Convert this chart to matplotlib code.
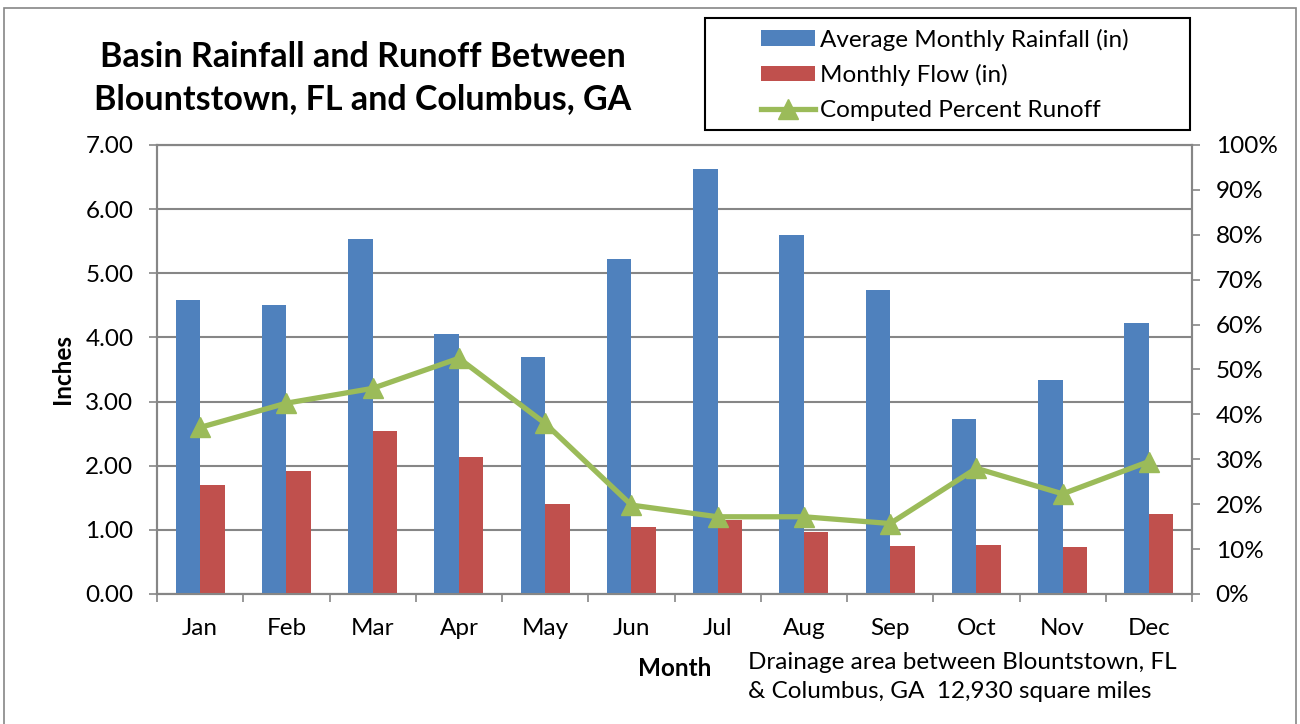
import matplotlib
matplotlib.use("Agg")
import matplotlib.pyplot as plt
from matplotlib.patches import Rectangle
import matplotlib.ticker as mt
import numpy as np

months = ["Jan", "Feb", "Mar", "Apr", "May", "Jun", "Jul", "Aug", "Sep", "Oct", "Nov", "Dec"]
rainfall = [4.58, 4.50, 5.53, 4.05, 3.69, 5.23, 6.63, 5.60, 4.74, 2.73, 3.33, 4.22]
flow = [1.70, 1.91, 2.54, 2.13, 1.41, 1.05, 1.15, 0.97, 0.75, 0.77, 0.74, 1.25]
runoff_pct = [37.1, 42.5, 45.8, 52.5, 38.0, 19.8, 17.2, 17.2, 15.7, 28.0, 22.3, 29.5]
left_ticks = [0, 1, 2, 3, 4, 5, 6, 7]
right_ticks = [0, 10, 20, 30, 40, 50, 60, 70, 80, 90, 100]

plt.rcParams['font.family'] = ['Lato', 'DejaVu Sans']

W, H = 1300, 724
BLUE, RED, GREEN, GRAY = "#4F81BD", "#C0504D", "#9BBB59", "#868686"
FS = 17.5

fig = plt.figure(figsize=(W / 100, H / 100), dpi=100)
fig.add_artist(Rectangle((4 / W, -0.1), 1292 / W, 1.1 - 8 / H, transform=fig.transFigure,
                         fill=False, ec=GRAY, lw=1.2))

x0, x1, y0, y1 = 157, 1192, 145, 594
ax = fig.add_axes([x0 / W, 1 - y1 / H, (x1 - x0) / W, (y1 - y0) / H])
x = np.arange(len(months))
bw = 0.284
b1 = ax.bar(x - bw / 2, rainfall, bw, color=BLUE, label="Average Monthly Rainfall (in)", zorder=3)
b2 = ax.bar(x + bw / 2, flow, bw, color=RED, label="Monthly Flow (in)", zorder=3)
ax.set_xlim(-0.5, len(months) - 0.5)
ax.set_ylim(0, 7)
ax.set_yticks(left_ticks)
ax.yaxis.set_major_formatter(mt.FormatStrFormatter("%.2f"))
ax.grid(axis="y", color=GRAY, lw=1.5, zorder=0)
ax.set_axisbelow(True)
ax.set_xticks(np.arange(-0.5, len(months), 1))
ax.set_xticklabels([])
ax.set_xticks(x, minor=True)
ax.set_xticklabels(months, minor=True)
ax.tick_params(axis="x", which="major", length=6, width=1.2, color=GRAY, direction="out")
ax.tick_params(axis="x", which="minor", length=0, pad=17, labelsize=FS)
ax.tick_params(axis="y", length=6, width=1.2, color=GRAY, pad=11, labelsize=FS)
for s in ax.spines.values():
    s.set_color(GRAY)
    s.set_linewidth(1.5)

ax.set_ylabel("Inches", fontsize=FS, fontweight="bold", va="center")
ax.yaxis.set_label_coords((62 - x0) / (x1 - x0), 0.5)
ax.set_xlabel("Month", fontsize=FS, fontweight="bold")
ax.xaxis.label.set_va("center")
ax.xaxis.set_label_coords((675 - x0) / (x1 - x0), (y1 - 669) / (y1 - y0))

ax2 = ax.twinx()
ln, = ax2.plot(x, np.array(runoff_pct) / 100, color=GREEN, lw=3.8, marker="^", ms=15,
               label="Computed Percent Runoff", zorder=5)
ax2.set_ylim(0, 1)
ax2.set_yticks(np.array(right_ticks) / 100)
ax2.yaxis.set_major_formatter(mt.PercentFormatter(1.0, decimals=0))
ax2.tick_params(axis="y", length=6, width=1.2, color=GRAY, pad=11, labelsize=FS)
for s in ax2.spines.values():
    s.set_color(GRAY)
    s.set_linewidth(1.5)

fig.text(363 / W, 1 - 78 / H, "Basin Rainfall and Runoff Between\nBlountstown, FL and Columbus, GA",
         ha="center", va="center", fontsize=24.5, fontweight="bold", linespacing=1.42)

fig.add_artist(Rectangle((705 / W, 1 - 130 / H), 485 / W, 112 / H, transform=fig.transFigure,
                         fill=False, ec="black", lw=1.5))
fig.legend(handles=[b1, b2, ln], loc="upper left", bbox_to_anchor=(742 / W, 1 - 9 / H),
           frameon=False, fontsize=FS, handlelength=2.2, handleheight=0.6,
           labelspacing=0.56, handletextpad=0.2, borderpad=0.3)

fig.text(748 / W, 1 - 677 / H, "Drainage area between Blountstown, FL\n& Columbus, GA  12,930 square miles",
         ha="left", va="center", fontsize=FS, linespacing=1.42)

fig.savefig("out.png", dpi=100)
